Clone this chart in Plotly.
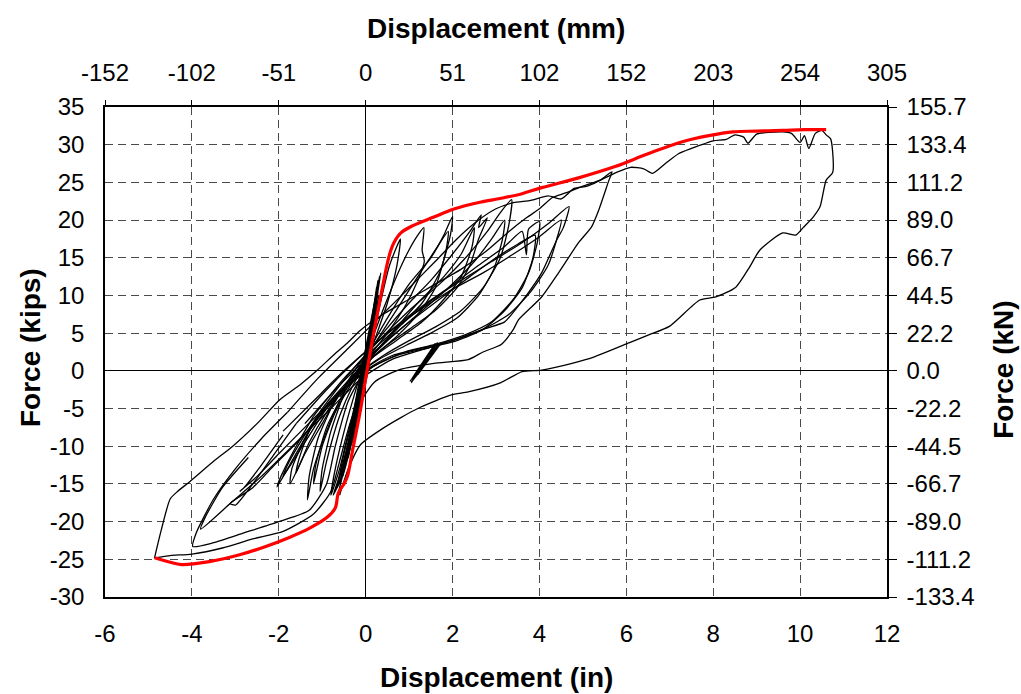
import plotly.graph_objects as go

# ---------------- data (inches, kips) ----------------
# backbone envelope (red)
env_x = [-4.86, -4.5, -4.24, -3.6, -2.9, -2.3, -1.8, -1.3, -0.88, -0.7, -0.63, -0.5, -0.42, -0.3, -0.12, 0.0, 0.19, 0.35, 0.5, 0.58, 0.65, 0.81, 1.1, 1.57, 2.0, 2.36, 2.66, 3.12, 3.6, 4.05, 4.9, 5.74, 6.5, 7.29, 7.9, 8.45, 9.0, 9.6, 10.1, 10.6]
env_y = [-24.8, -25.4, -25.7, -25.3, -24.4, -23.3, -22.2, -20.9, -19.4, -18.2, -16.2, -15.0, -14.0, -10.5, -5.2, -1.0, 5.2, 10.0, 14.3, 16.0, 17.0, 18.3, 19.3, 20.4, 21.4, 22.0, 22.4, 22.9, 23.5, 24.3, 25.6, 27.1, 28.8, 30.4, 31.2, 31.7, 31.8, 31.9, 32.0, 32.0]

# elastic cycles near the origin (dense band)
b1_x = [0, 0.15, 0.3, 0.2, -0.2, -0.45, -0.6, -0.4, 0.0, 0.2, 0.32, 0.15, -0.25, -0.5, -0.7, -0.5, -0.1, 0.15, 0.35, 0.2, -0.15, -0.55, -0.75, -0.55, -0.05, 0.25, 0.3, 0.1, -0.3, -0.6, -0.5]
b1_y = [0, 7, 12, 9, -3, -11, -15, -11, 0, 8, 12.5, 7, -5, -12, -16, -12, -2, 6, 13, 9, -3, -13, -16.5, -14, -1, 9, 11.5, 5, -7, -14, -12]
b2_x = [-0.35, -0.1, 0.1, 0.25, 0.12, -0.15, -0.4, -0.65, -0.5, -0.2, 0.05, 0.28, 0.18, -0.1, -0.38, -0.62, -0.45, -0.15, 0.12, 0.3, 0.2, -0.05, -0.3, -0.52, -0.4, -0.1, 0.08, 0.22]
b2_y = [-12, -3, 5, 11, 6, -4, -11, -15.5, -11, -4, 3, 12, 7, -2, -10, -16, -12, -5, 4, 10, 5, -3, -9, -14, -10, -2, 4, 9]
b3_x = [0.0, 0.1, 0.18, 0.1, -0.05, -0.2, -0.3, -0.18, 0.0, 0.12, 0.22, 0.14, -0.02, -0.22, -0.4, -0.3, -0.1, 0.08]
b3_y = [0.0, 4.0, 8.0, 5.5, 0.5, -5.0, -9.5, -6.0, -1.0, 4.5, 9.0, 6.0, 0.0, -6.0, -11.5, -8.0, -2.0, 3.0]

# growing inelastic cycles (first cycle of each amplitude)
d1_x = [0.0, 0.3, 0.55, 0.8, 0.72, 0.5, 0.2, -0.1, -0.35, -0.6, -0.8, -0.7, -0.45, -0.2]
d1_y = [0.0, 8.0, 14.0, 17.5, 14.0, 9.0, 4.0, -1.0, -7.0, -13.0, -16.5, -13.0, -7.0, -2.0]

d2_x = [-0.2, 0.2, 0.6, 0.95, 1.2, 1.34, 1.3, 1.35, 1.2, 0.9, 0.5, 0.1, -0.3, -0.6, -0.9, -1.05, -1.0, -0.8, -0.5]
d2_y = [-2.0, 5.0, 11.0, 15.5, 18.0, 19.0, 16.0, 14.5, 12.0, 8.5, 5.0, 2.0, -2.0, -6.0, -12.0, -16.0, -13.0, -8.0, -3.0]

d3_x = [-0.5, 0.0, 0.5, 1.0, 1.5, 1.8, 2.0, 1.95, 1.7, 1.3, 0.8, 0.3, -0.2, -0.6, -0.9, -1.2, -1.34, -1.3, -1.1, -0.8]
d3_y = [-3.0, 2.0, 7.0, 11.5, 15.0, 18.0, 20.5, 18.0, 13.0, 9.0, 6.0, 3.0, 0.0, -4.0, -8.0, -13.0, -17.1, -14.0, -9.0, -5.0]

d4_x = [-0.8, -0.2, 0.4, 1.0, 1.5, 2.0, 2.4, 2.66, 2.6, 2.8, 2.6, 2.4, 2.1, 1.6, 1.0, 0.4, -0.1, -0.6, -1.0, -1.4, -1.74, -1.7, -1.4, -1.0]
d4_y = [-5.0, 0.5, 5.0, 9.0, 12.0, 15.5, 18.5, 20.7, 19.0, 20.3, 17.5, 14.0, 11.0, 8.0, 5.5, 3.0, 0.5, -3.0, -7.0, -11.0, -15.0, -13.0, -9.0, -5.0]

d5_x = [-1.0, -0.4, 0.3, 1.0, 1.7, 2.3, 2.8, 3.1, 3.36, 3.3, 3.1, 2.7, 2.2, 1.6, 1.0, 0.4, -0.2, -0.8, -1.3, -1.7, -2.04, -1.95, -1.6, -1.2]
d5_y = [-5.0, -0.5, 4.0, 8.0, 11.5, 15.0, 18.5, 21.0, 22.7, 19.5, 15.0, 11.0, 8.0, 5.8, 4.0, 2.0, -0.5, -4.0, -8.0, -12.0, -15.4, -14.0, -10.0, -6.0]

d6_x = [-1.2, -0.5, 0.3, 1.1, 1.9, 2.6, 3.2, 3.6, 3.7, 3.75, 4.0, 3.95, 3.75, 3.4, 2.9, 2.3, 1.6, 0.9, 0.3, -0.3, -0.9, -1.5, -2.1, -2.6, -3.12, -3.0, -2.6, -2.1, -1.6]
d6_y = [-6.0, -1.0, 3.5, 7.5, 11.0, 14.0, 16.5, 18.5, 15.4, 18.8, 19.8, 17.0, 13.0, 9.5, 6.5, 4.8, 3.5, 2.5, 1.0, -1.5, -5.0, -9.0, -12.5, -15.5, -17.6, -17.8, -15.0, -11.0, -7.0]

d7_x = [-1.6, -0.9, -0.2, 0.6, 1.4, 2.2, 2.9, 3.6, 4.2, 4.68, 4.55, 4.4, 4.05, 3.7, 3.43, 3.2, 2.7, 2.0, 1.3, 0.6, 0.0, -0.4, -0.7, -0.9, -1.3, -2.0, -2.8, -3.5, -3.98, -3.9, -3.5, -3.0, -2.4, -1.8]
d7_y = [-7.0, -2.5, 1.5, 5.5, 9.0, 12.0, 14.5, 17.0, 19.5, 21.8, 19.0, 17.4, 13.0, 10.0, 8.0, 6.5, 5.5, 4.0, 3.0, 2.0, 0.0, -4.0, -10.0, -15.0, -18.5, -20.0, -21.5, -22.8, -23.3, -21.5, -17.0, -13.0, -9.0, -5.5]

d8_x = [-1.8, -1.1, -0.4, 0.3, 1.0, 1.6, 2.1, 2.6, 3.0, 3.4, 3.8, 4.2, 4.5, 4.8, 5.1, 5.4, 5.67, 5.6, 5.37, 5.2, 4.9, 4.44, 4.05, 3.52, 3.4, 3.12, 2.7, 2.36, 1.57, 0.8, 0.2, -0.3, -0.6, -0.8, -1.2, -1.9, -2.6, -3.3, -4.0, -4.5, -4.86]
d8_y = [-5.5, -1.0, 3.0, 7.0, 11.0, 14.5, 17.5, 20.0, 21.5, 22.3, 22.6, 23.2, 22.8, 24.2, 24.5, 25.3, 26.4, 25.3, 21.4, 19.1, 17.0, 13.0, 9.8, 6.8, 5.5, 3.5, 2.5, 1.5, 1.0, 0.2, -1.5, -6.0, -12.0, -16.0, -19.0, -21.3, -22.3, -23.5, -24.3, -24.5, -24.8]

# repeated cycles at the same amplitudes (slightly lower forces)
r1_x = [-0.3, 0.2, 0.7, 1.2, 1.6, 1.9, 1.85, 1.6, 1.2, 0.7, 0.2, -0.3, -0.7, -1.0, -1.2, -1.15, -0.9, -0.6]
r1_y = [-1.5, 3.5, 8.0, 12.5, 16.0, 18.5, 16.0, 11.0, 7.5, 4.5, 2.0, -1.5, -5.5, -10.0, -15.0, -12.5, -7.5, -4.0]

r2_x = [-0.6, 0.0, 0.6, 1.2, 1.8, 2.2, 2.5, 2.45, 2.2, 1.8, 1.3, 0.7, 0.1, -0.4, -0.9, -1.3, -1.6, -1.55, -1.3, -0.9]
r2_y = [-3.5, 1.0, 5.0, 9.0, 12.5, 15.5, 19.0, 16.5, 12.5, 9.5, 6.5, 4.0, 1.5, -1.5, -5.5, -9.5, -13.5, -12.0, -8.0, -4.5]

r3_x = [-0.9, -0.2, 0.5, 1.2, 1.9, 2.5, 2.9, 3.2, 3.15, 2.95, 2.6, 2.1, 1.5, 0.9, 0.3, -0.3, -0.9, -1.4, -1.9, -1.8, -1.4, -1.0]
r3_y = [-4.5, 0.0, 4.0, 7.5, 11.0, 14.5, 17.5, 20.0, 17.5, 13.5, 10.0, 7.0, 5.0, 3.3, 1.5, -1.0, -5.0, -9.5, -14.0, -12.5, -8.5, -5.0]

r4_x = [-1.4, -0.7, 0.1, 0.9, 1.7, 2.4, 3.0, 3.5, 3.9, 3.85, 3.6, 3.2, 2.7, 2.1, 1.4, 0.7, 0.0, -0.7, -1.4, -2.0, -2.5, -2.9, -2.8, -2.4, -1.9]
r4_y = [-7.0, -2.5, 2.0, 6.0, 9.5, 12.5, 15.0, 16.8, 18.0, 15.0, 11.0, 8.0, 5.5, 4.0, 3.0, 2.0, 0.0, -3.5, -7.5, -11.0, -14.0, -16.0, -15.5, -12.5, -8.5]

r5_x = [-1.9, -1.2, -0.5, 0.3, 1.1, 1.9, 2.7, 3.4, 4.0, 4.5, 4.4, 4.2, 3.8, 3.3, 2.7, 2.0, 1.3, 0.6, -0.1, -0.8, -1.6, -2.4, -3.1, -3.8, -3.7, -3.3, -2.7]
r5_y = [-8.0, -4.0, 0.0, 4.0, 7.5, 10.5, 13.0, 15.5, 17.8, 20.0, 17.5, 14.0, 10.5, 7.5, 5.5, 4.0, 2.8, 1.5, -1.0, -5.0, -9.5, -14.0, -17.5, -21.0, -19.5, -15.5, -11.5]

# final cycle: reload from the negative peak to the maximum, then unload
d9_x = [-4.86, -4.7, -4.5, -4.33, -4.05, -3.5, -3.06, -2.5, -1.97, -1.5, -1.11, -0.7, -0.42, -0.12, 0.4, 1.0, 1.6, 2.2, 2.8, 3.3, 3.7, 4.0, 4.3, 4.6, 5.0, 5.4, 5.8, 6.1, 6.4, 6.6, 6.9, 7.2, 7.5, 8.0, 8.3, 8.5, 8.7, 8.8, 9.0, 9.6, 9.8, 10.0, 10.1, 10.2, 10.35, 10.5, 10.6, 10.7, 10.75, 10.75, 10.6, 10.46, 10.3, 10.07, 9.9, 9.6, 9.07, 8.84, 8.52, 8.06, 7.69, 6.99, 6.53, 6.06, 5.28, 4.75, 4.05, 3.6, 3.1, 2.36, 1.97, 1.27, 0.81, 0.35, -0.12, -0.4, -0.6]
d9_y = [-24.8, -21.0, -17.0, -16.0, -14.7, -12.0, -10.0, -7.0, -3.8, -1.8, 0.1, 2.3, 3.7, 5.4, 7.5, 9.5, 11.5, 13.5, 16.0, 18.5, 20.3, 21.5, 23.0, 23.6, 24.5, 25.3, 26.4, 27.0, 26.8, 26.2, 27.5, 28.8, 29.5, 30.5, 30.7, 31.3, 31.0, 30.2, 31.4, 31.7, 31.5, 30.3, 31.2, 29.5, 31.5, 31.9, 31.3, 30.8, 29.0, 26.3, 25.3, 21.8, 20.4, 19.0, 18.0, 18.3, 16.0, 13.8, 11.1, 9.8, 9.4, 5.9, 4.8, 3.7, 1.9, 1.0, 0.1, -0.1, -1.6, -2.8, -3.2, -4.8, -6.2, -7.8, -9.8, -13.0, -16.5]

# dense small cycles near x = 1.3 in
p_x = [1.05, 1.6, 1.1, 1.65, 1.15, 1.7, 1.2, 1.65, 1.1, 1.6, 1.05, 1.55, 1.12, 1.68, 1.08, 1.62, 1.14, 1.66, 1.1, 1.58, 1.02, 1.6, 1.12, 1.7, 1.18, 1.64]
p_y = [-1.5, 3.5, -1.0, 3.7, -0.8, 3.4, -0.5, 3.0, -1.2, 3.6, -1.6, 2.8, -0.9, 3.3, -1.3, 3.5, -0.7, 3.1, -1.1, 2.9, -1.4, 3.6, -0.6, 3.7, -0.4, 3.2]

cycles = [
    (b1_x, b1_y), (b2_x, b2_y), (b3_x, b3_y),
    (d1_x, d1_y), (d2_x, d2_y), (d3_x, d3_y), (r1_x, r1_y), (d4_x, d4_y), (r2_x, r2_y),
    (d5_x, d5_y), (r3_x, r3_y), (d6_x, d6_y), (r4_x, r4_y), (d7_x, d7_y), (r5_x, r5_y),
    (d8_x, d8_y), (d9_x, d9_y), (p_x, p_y),
]

# axis ticks
x_in_ticks = [-6, -4, -2, 0, 2, 4, 6, 8, 10, 12]
x_in_labels = ["-6", "-4", "-2", "0", "2", "4", "6", "8", "10", "12"]
x_mm_labels = ["-152", "-102", "-51", "0", "51", "102", "152", "203", "254", "305"]
y_kip_ticks = [-30, -25, -20, -15, -10, -5, 0, 5, 10, 15, 20, 25, 30, 35]
y_kip_labels = ["-30", "-25", "-20", "-15", "-10", "-5", "0", "5", "10", "15", "20", "25", "30", "35"]
y_kn_labels = ["-133.4", "-111.2", "-89.0", "-66.7", "-44.5", "-22.2", "0.0",
               "22.2", "44.5", "66.7", "89.0", "111.2", "133.4", "155.7"]

# ---------------- figure ----------------
fig = go.Figure()
for cx, cy in cycles:
    fig.add_trace(go.Scatter(x=cx, y=cy, mode="lines",
                             line=dict(color="black", width=1.3, shape="spline", smoothing=0.6),
                             showlegend=False, hoverinfo="skip"))
fig.add_trace(go.Scatter(x=env_x, y=env_y, mode="lines",
                         line=dict(color="#ff0000", width=3.2, shape="spline"),
                         showlegend=False, hoverinfo="skip"))
# invisible trace on secondary axes
fig.add_trace(go.Scatter(x=[0], y=[0], xaxis="x2", yaxis="y2", mode="markers",
                         marker=dict(opacity=0), showlegend=False, hoverinfo="skip"))

FONT = "Liberation Sans, Arial, sans-serif"
TF = 24
TITLE = 28
grid = dict(showgrid=True, gridcolor="#4a4a4a", gridwidth=1, griddash="8px,5px")

fig.update_layout(
    width=1021, height=694,
    margin=dict(l=105, r=134, t=107, b=97),
    paper_bgcolor="white", plot_bgcolor="white",
    font=dict(family=FONT, size=TF, color="black"),
    xaxis=dict(range=[-6, 12], tickvals=x_in_ticks, ticktext=x_in_labels, ticks="",
               showline=True, linecolor="black", linewidth=1.5, automargin=False,
               zeroline=True, zerolinecolor="black", zerolinewidth=1,
               ticklabelstandoff=14, tickfont=dict(size=TF), **grid),
    yaxis=dict(range=[-30, 35], tickvals=y_kip_ticks, ticktext=y_kip_labels, ticks="",
               showline=True, linecolor="black", linewidth=1.5, automargin=False,
               zeroline=True, zerolinecolor="black", zerolinewidth=1,
               ticklabelstandoff=14, tickfont=dict(size=TF), **grid),
    xaxis2=dict(range=[-6, 12], overlaying="x", side="top", tickvals=x_in_ticks,
                ticktext=x_mm_labels, ticks="outside", ticklen=5, tickcolor="black",
                showline=True, linecolor="black", linewidth=1.5, showgrid=False,
                automargin=False, zeroline=False, ticklabelstandoff=10,
                tickfont=dict(size=TF)),
    yaxis2=dict(range=[-30, 35], overlaying="y", side="right", tickvals=y_kip_ticks,
                ticktext=y_kn_labels, ticks="outside", ticklen=8, tickcolor="black",
                showline=True, linecolor="black", linewidth=1.5, showgrid=False,
                automargin=False, zeroline=False, ticklabelstandoff=5,
                tickfont=dict(size=TF)),
    annotations=[
        dict(text="<b>Displacement (in)</b>", xref="paper", yref="paper", x=0.5, y=-0.165,
             showarrow=False, font=dict(size=TITLE), xanchor="center", yanchor="middle"),
        dict(text="<b>Displacement (mm)</b>", xref="paper", yref="paper", x=0.5, y=1.161,
             showarrow=False, font=dict(size=TITLE), xanchor="center", yanchor="middle"),
        dict(text="<b>Force (kips)</b>", xref="paper", yref="paper", x=-0.096, y=0.51,
             showarrow=False, font=dict(size=TITLE), textangle=-90,
             xanchor="center", yanchor="middle"),
        dict(text="<b>Force (kN)</b>", xref="paper", yref="paper", x=1.148, y=0.463,
             showarrow=False, font=dict(size=TITLE), textangle=-90,
             xanchor="center", yanchor="middle"),
    ],
)

fig.write_html("out.html", config={"displayModeBar": False},
               post_script="document.body.style.margin='0';document.body.style.padding='0';"
                           "document.body.style.overflow='hidden';")
